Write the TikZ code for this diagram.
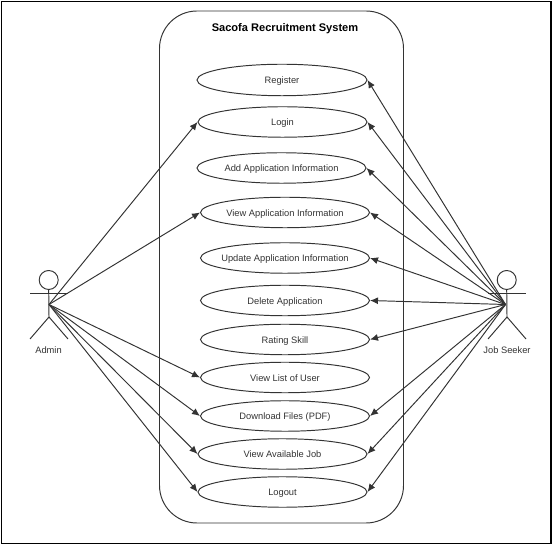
\documentclass[tikz,border=0pt]{standalone}
\usepackage{fontspec}
\setmainfont{Liberation Sans}
\usetikzlibrary{arrows.meta, shapes.geometric}
\definecolor{umlline}{HTML}{333333}
\newcommand{\casename}[1]{\raisebox{-2.2pt}[0pt][0pt]{\makebox[0pt]{#1}}}

\begin{document}
\begin{tikzpicture}[
  usecase/.style={ellipse, draw=umlline, line width=0.55pt, minimum width=3.38cm, minimum height=0.61cm,
                  inner sep=0pt, font=\fontsize{5.3}{6.4}\selectfont, text=umlline},
  head/.style={circle, draw=umlline, line width=0.55pt, minimum size=0.38cm, inner sep=0pt},
  limb/.style={draw=umlline, line width=0.55pt},
  assoc/.style={draw=umlline, line width=0.55pt, -{Latex[length=1.6mm, width=1.4mm]}},
  actorname/.style={font=\fontsize{5.3}{6.4}\selectfont, text=umlline},
  title/.style={font=\fontsize{6.3}{7.4}\selectfont\bfseries},
]

\useasboundingbox (0, 0) rectangle (11.04, 10.92);

\node[draw, line width=0.8pt, minimum width=10.99cm, minimum height=10.84cm, inner sep=0pt] (frame) at (5.525, 5.47) {};
\node[draw=umlline, line width=0.55pt, rounded corners=0.75cm, minimum width=4.88cm, minimum height=10.24cm, inner sep=0pt] (system) at (5.63, 5.58) {};
\node[title] (systemname) at (5.70, 10.35) {Sacofa Recruitment System};

\node[usecase, minimum width=3.40cm, minimum height=0.63cm] (register) at (5.64, 9.32) {\casename{Register}};
\node[usecase] (login) at (5.65, 8.48) {\casename{Login}};
\node[usecase] (addinfo) at (5.63, 7.56) {\casename{Add Application Information}};
\node[usecase] (viewinfo) at (5.70, 6.67) {\casename{View Application Information}};
\node[usecase] (updateinfo) at (5.70, 5.76) {\casename{Update Application Information}};
\node[usecase] (deleteapp) at (5.70, 4.91) {\casename{Delete Application}};
\node[usecase] (rating) at (5.70, 4.13) {\casename{Rating Skill}};
\node[usecase] (userlist) at (5.70, 3.37) {\casename{View List of User}};
\node[usecase] (download) at (5.70, 2.60) {\casename{Download Files (PDF)}};
\node[usecase] (availjob) at (5.65, 1.84) {\casename{View Available Job}};
\node[usecase] (logout) at (5.65, 1.08) {\casename{Logout}};

\node[head] (adminhead) at (0.974, 5.32) {};
\coordinate (adminhub) at (0.98, 4.83);
\coordinate (adminhip) at (0.98, 4.58);
\draw[limb] (adminhead.south) -- (adminhip);
\draw[limb] (0.60, 5.06) -- (1.36, 5.06);
\draw[limb] (0.60, 4.14) -- (adminhip) -- (1.36, 4.14);
\node[actorname] (admin) at (0.97, 3.92) {Admin};

\node[head] (seekerhead) at (10.134, 5.32) {};
\coordinate (seekerhub) at (10.11, 4.83);
\coordinate (seekerhip) at (10.14, 4.58);
\draw[limb] (seekerhead.south) -- (seekerhip);
\draw[limb] (9.76, 5.06) -- (10.52, 5.06);
\draw[limb] (9.76, 4.14) -- (seekerhip) -- (10.52, 4.14);
\node[actorname] (seeker) at (10.14, 3.92) {Job Seeker};

\draw[assoc] (adminhub) -- (login.west);
\draw[assoc] (adminhub) -- (viewinfo.west);
\draw[assoc] (adminhub) -- (userlist.west);
\draw[assoc] (adminhub) -- (download.west);
\draw[assoc] (adminhub) -- (availjob.west);
\draw[assoc] (adminhub) -- (logout.west);

\draw[assoc] (seekerhub) -- (register.east);
\draw[assoc] (seekerhub) -- (login.east);
\draw[assoc] (seekerhub) -- (addinfo.east);
\draw[assoc] (seekerhub) -- (viewinfo.east);
\draw[assoc] (seekerhub) -- (updateinfo.east);
\draw[assoc] (seekerhub) -- (deleteapp.east);
\draw[assoc] (seekerhub) -- (rating.east);
\draw[assoc] (seekerhub) -- (download.east);
\draw[assoc] (seekerhub) -- (availjob.east);
\draw[assoc] (seekerhub) -- (logout.east);

\end{tikzpicture}
\end{document}
